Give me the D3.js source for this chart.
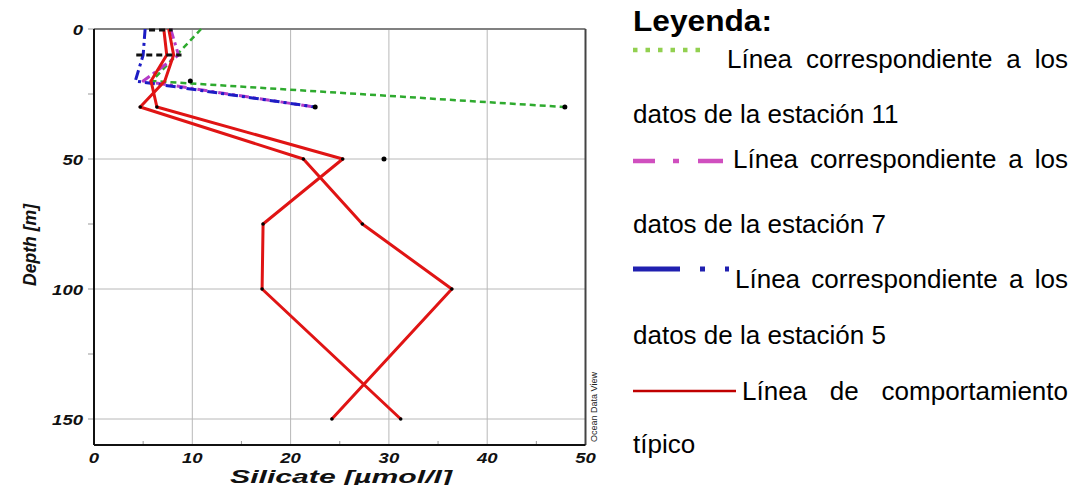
<!DOCTYPE html>
<html><head><meta charset="utf-8">
<script src="https://cdn.jsdelivr.net/npm/d3@7"></script>
<style>body{margin:0;background:#fff}svg{display:block}</style>
</head><body>
<svg id="c" width="1073" height="485"></svg>
<script>
// ---- data ----
const depths = [0, 10, 20, 30, 50, 75, 100, 150];
const typicalA = [7.6, 8.1, 7.2, 4.7, 21.3, 27.3, 36.4, 24.2];
const typicalB = [7.1, 7.4, 5.8, 6.4, 25.3, 17.2, 17.1, 31.2];
const stationDepths = [0, 10, 20, 30];
const station5 = [5.2, 5.0, 4.2, 22.5];
const station7 = [7.8, 8.6, 5.0, 22.4];
const station11 = [10.9, 8.4, 5.9, 47.9];
const loneDotValues = [9.8, 29.5];
const loneDotDepths = [20, 50];
const markerRowDepths = [0, 10];
const markerRowFrom = [5.6, 4.3];
const markerRowTo = [8.0, 8.9];
const xTicks = [0, 10, 20, 30, 40, 50];
const yTicks = [0, 50, 100, 150];
const yMinor = [25, 75, 125];
const xMinor = [5, 15, 25, 35, 45];
const legendItems = [
  {first: ["Línea", "correspondiente", "a", "los"], second: "datos de la estación 11"},
  {first: ["Línea", "correspondiente", "a", "los"], second: "datos de la estación 7"},
  {first: ["Línea", "correspondiente", "a", "los"], second: "datos de la estación 5"},
  {first: ["Línea", "de", "comportamiento"], second: "típico"}
];

const svg = d3.select("#c");
const x = d3.scaleLinear().domain([0, 50]).range([94, 585.5]);
const y = d3.scaleLinear().domain([0, 160]).range([29, 445]);
const tickFont = "'Liberation Sans', Arial, sans-serif";

// grid
const g = svg.append("g");
g.selectAll("line.vg").data(xTicks.slice(1, -1)).join("line")
  .attr("x1", d => x(d)).attr("x2", d => x(d)).attr("y1", y(0)).attr("y2", y(160))
  .attr("stroke", "#b8b8b8").attr("stroke-width", 1);
g.selectAll("line.hg").data(yTicks.slice(1)).join("line")
  .attr("y1", d => y(d)).attr("y2", d => y(d)).attr("x1", x(0)).attr("x2", x(50))
  .attr("stroke", "#b8b8b8").attr("stroke-width", 1);

// axes ticks
g.selectAll("line.yt").data(yTicks.concat(yMinor)).join("line")
  .attr("x1", x(0) - 6).attr("x2", x(0)).attr("y1", d => y(d)).attr("y2", d => y(d))
  .attr("stroke", "#999").attr("stroke-width", 1);
g.selectAll("line.xt").data(xMinor).join("line")
  .attr("x1", d => x(d)).attr("x2", d => x(d)).attr("y1", y(160) - 4).attr("y2", y(160))
  .attr("stroke", "#999").attr("stroke-width", 1);

// tick labels
const cw = 10.3;
g.selectAll("text.yl").data(yTicks).join("text")
  .attr("x", d => 83 - String(d).length * cw).attr("y", d => y(d) + 5.5)
  .attr("textLength", d => String(d).length * cw).attr("lengthAdjust", "spacingAndGlyphs")
  .attr("font-family", tickFont).attr("font-weight", "bold").attr("font-style", "italic")
  .attr("font-size", 15.5).attr("fill", "#111").text(d => d);
g.selectAll("text.xl").data(xTicks).join("text")
  .attr("x", d => x(d) - String(d).length * cw / 2).attr("y", 463)
  .attr("textLength", d => String(d).length * cw).attr("lengthAdjust", "spacingAndGlyphs")
  .attr("font-family", tickFont).attr("font-weight", "bold").attr("font-style", "italic")
  .attr("font-size", 15).attr("fill", "#111").text(d => d);

g.append("text").attr("x", 230).attr("y", 483).attr("textLength", 222).attr("lengthAdjust", "spacingAndGlyphs")
  .attr("font-family", tickFont).attr("font-weight", "bold").attr("font-style", "italic")
  .attr("font-size", 17.5).attr("fill", "#111").text("Silicate [µmol/l]");
g.append("text").attr("transform", "translate(36,286) rotate(-90)")
  .attr("textLength", 82).attr("lengthAdjust", "spacingAndGlyphs")
  .attr("font-family", tickFont).attr("font-weight", "bold").attr("font-style", "italic")
  .attr("font-size", 18).attr("fill", "#111").text("Depth [m]");
g.append("text").attr("transform", "translate(597,442) rotate(-90)")
  .attr("textLength", 70).attr("lengthAdjust", "spacingAndGlyphs")
  .attr("font-family", tickFont).attr("font-size", 9).attr("fill", "#222").text("Ocean Data View");
g.append("text").attr("x", 67).attr("y", -4)
  .attr("font-family", tickFont).attr("font-weight", "bold").attr("font-size", 18).attr("fill", "#111").text("g");

// frame
g.append("line").attr("x1", x(0)).attr("x2", x(50)).attr("y1", y(0)).attr("y2", y(0)).attr("stroke", "#808080").attr("stroke-width", 2);
g.append("line").attr("x1", x(50)).attr("x2", x(50)).attr("y1", y(0)).attr("y2", y(160)).attr("stroke", "#444").attr("stroke-width", 2);
g.append("line").attr("x1", x(0)).attr("x2", x(50)).attr("y1", y(160)).attr("y2", y(160)).attr("stroke", "#111").attr("stroke-width", 2);
g.append("line").attr("x1", x(0)).attr("x2", x(0)).attr("y1", y(0)).attr("y2", y(160)).attr("stroke", "#111").attr("stroke-width", 2);

// series
const line = d3.line().x(d => x(d[0])).y(d => y(d[1]));
function drawSeries(vals, ds, color, width, dash) {
  const p = g.append("path").datum(vals.map((v, i) => [v, ds[i]]))
    .attr("d", line).attr("fill", "none").attr("stroke", color).attr("stroke-width", width)
    .attr("stroke-linejoin", "round");
  if (dash) p.attr("stroke-dasharray", dash);
}
drawSeries(station11, stationDepths, "#2eaa2e", 2.5, "6,4");
drawSeries(station7, stationDepths, "#b43cc8", 3, "10,4,3,4");
drawSeries(station5, stationDepths, "#1c1cc4", 3, "10,4,3,4");
drawSeries(typicalA, depths, "#e01414", 3);
drawSeries(typicalB, depths, "#e01414", 3);

// marker rows (black dashes)
g.selectAll("line.mr").data(markerRowDepths).join("line")
  .attr("x1", (d, i) => x(markerRowFrom[i])).attr("x2", (d, i) => x(markerRowTo[i]))
  .attr("y1", d => y(d) + (d === 0 ? 1 : 0)).attr("y2", d => y(d) + (d === 0 ? 1 : 0))
  .attr("stroke", "#111").attr("stroke-width", 3).attr("stroke-dasharray", "6,4");

// dots
const dots = [];
depths.forEach((d, i) => { if (d >= 30) { dots.push([typicalA[i], d, 1.8]); dots.push([typicalB[i], d, 1.8]); } });
dots.push([station5[3], 30, 2.5]);
dots.push([station11[3], 30, 2.5]);
loneDotValues.forEach((v, i) => dots.push([v, loneDotDepths[i], 2.5]));
g.selectAll("circle").data(dots).join("circle")
  .attr("cx", d => x(d[0])).attr("cy", d => y(d[1])).attr("r", d => d[2]).attr("fill", "#000");

// legend
const lf = "'Liberation Sans', Arial, sans-serif";
const L = svg.append("g");
L.append("text").attr("x", 633).attr("y", 31).attr("font-family", lf).attr("font-weight", "bold")
  .attr("font-size", 29).attr("textLength", 139).attr("lengthAdjust", "spacingAndGlyphs")
  .attr("fill", "#000").text("Leyenda:");

function justify(words, x0, x1, yb) {
  const nodes = words.map(w => L.append("text").attr("y", yb).attr("font-family", lf)
    .attr("font-size", 26).attr("fill", "#000").text(w));
  const widths = nodes.map(n => n.node().getComputedTextLength());
  const total = d3.sum(widths);
  const gap = (x1 - x0 - total) / (words.length - 1);
  let cx = x0;
  nodes.forEach((n, i) => { n.attr("x", cx); cx += widths[i] + gap; });
}
const firstX0 = [727, 733, 735, 742];
const firstY = [68, 168, 288, 400];
const secondY = [123, 233, 344, 453];
legendItems.forEach((it, i) => {
  justify(it.first, firstX0[i], 1068, firstY[i]);
  L.append("text").attr("x", 633).attr("y", secondY[i]).attr("font-family", lf)
    .attr("font-size", 26).attr("fill", "#000").text(it.second);
});
// swatches
L.append("line").attr("x1", 633).attr("x2", 700).attr("y1", 50).attr("y2", 50)
  .attr("stroke", "#92d050").attr("stroke-width", 4.5).attr("stroke-dasharray", "4.5,8");
L.append("line").attr("x1", 633).attr("x2", 723).attr("y1", 161).attr("y2", 161)
  .attr("stroke", "#d04fbf").attr("stroke-width", 4.5).attr("stroke-dasharray", "22,18,6,19,25");
L.append("line").attr("x1", 633).attr("x2", 729).attr("y1", 269).attr("y2", 269)
  .attr("stroke", "#2020b0").attr("stroke-width", 5).attr("stroke-dasharray", "47,20,5,20,5");
L.append("line").attr("x1", 633).attr("x2", 736).attr("y1", 391).attr("y2", 391)
  .attr("stroke", "#c00000").attr("stroke-width", 2.5);
</script>
</body></html>
